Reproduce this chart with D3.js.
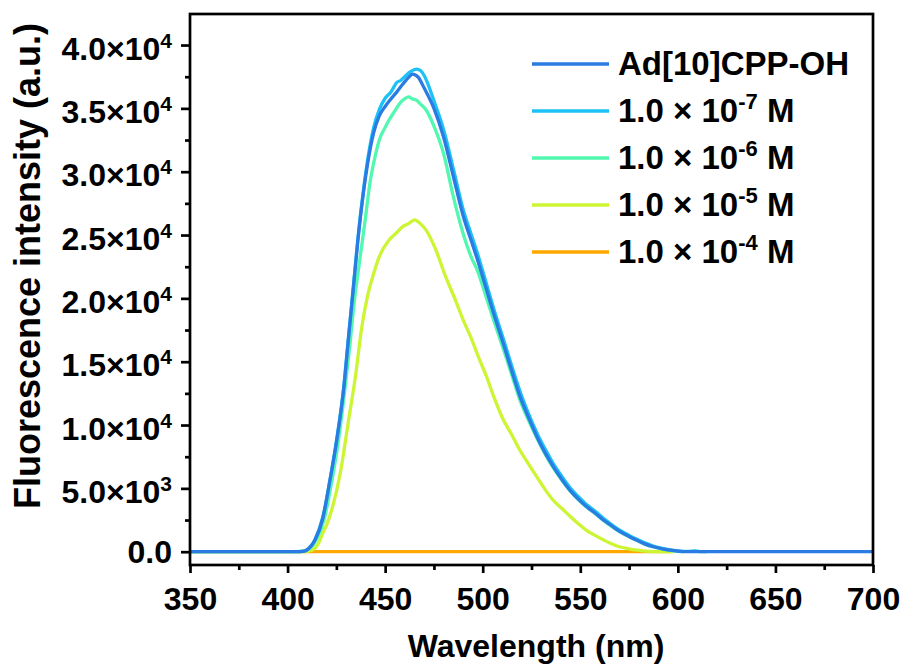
<!DOCTYPE html>
<html>
<head>
<meta charset="utf-8">
<script src="https://cdn.jsdelivr.net/npm/d3@7"></script>
<style>
  body { margin: 0; background: #fff; }
  svg text { font-family: Arial, "Liberation Sans", sans-serif; font-weight: bold; fill: #000; }
</style>
</head>
<body>
<svg id="chart" width="905" height="670"></svg>
<script>
// Axis ticks
const wavelengthTicks = [350, 400, 450, 500, 550, 600, 650, 700];
const wavelengthMinorTicks = [375, 425, 475, 525, 575, 625, 675];
const intensityTicks = [0, 5000, 10000, 15000, 20000, 25000, 30000, 35000, 40000];
const intensityMinorTicks = [2500, 7500, 12500, 17500, 22500, 27500, 32500, 37500];

// Legend entries: base text and superscript exponent
const seriesNames = ["Ad[10]CPP-OH", "1.0 × 10", "1.0 × 10", "1.0 × 10", "1.0 × 10"];
const seriesExponents = ["", "-7", "-6", "-5", "-4"];
const seriesColors = ["#2a7be2", "#1cc2f6", "#52f7b0", "#ccf533", "#ffa800"];

// Emission spectra (wavelength in nm, intensity in a.u.)
const wlAd = [350,380,405,408,410,414,418,422,425,429,431,434,436,439,441,444,447,450,453,456,459,462,464,467,470,475,480,485,490,494,497,502,506,511,515,519,524,528,532,536,541,545,549,553,558,562,566,570,575,579,583,587,592,596,600,605,650,700];
const valAd = [0,0,0,30,150,900,2600,5900,8600,13200,16500,21300,24500,28500,30600,33000,34400,35150,35750,36300,36900,37450,37700,37450,36600,35000,32700,29600,26500,24600,23200,20650,18600,16200,14200,12300,10400,9000,7800,6750,5600,4800,4150,3580,3000,2480,2050,1620,1200,900,620,410,230,120,40,0,0,0];

const wlE7 = [350,380,405,408,410,414,418,422,425,429,431,434,436,439,441,444,447,450,453,456,458,460,463,466,468,470,472,475,480,485,490,494,497,502,506,511,515,519,524,528,532,536,541,545,549,553,558,562,566,570,575,579,583,587,592,596,600,605,609,612,615];
const valE7 = [0,0,0,40,170,950,2700,5900,8700,13300,16600,21400,24700,28700,30900,33400,34900,35800,36300,37050,37200,37500,37900,38100,38000,37600,36900,35600,33300,30200,27000,25100,23700,21100,19000,16600,14600,12700,10700,9300,8100,7000,5850,5000,4350,3750,3150,2620,2150,1720,1290,980,700,470,270,150,70,20,60,10,0];

const wlE6 = [350,380,405,409,411,415,419,422,426,429,432,434,437,440,442,445,447,450,452,455,458,460,462,464,466,468,471,475,480,485,490,494,497,502,506,511,515,519,524,528,532,536,541,545,549,553,558,562,566,570,575,579,583,587,592,596,600,603];
const valE6 = [0,0,0,60,220,1000,2700,5000,8700,12300,16400,19500,23030,26450,28900,31300,32500,33500,34080,34800,35500,35750,35900,35750,35650,35350,34870,33600,31400,28000,25100,23300,22300,20000,18100,15800,13900,12000,10200,8900,7700,6650,5550,4750,4100,3550,2950,2450,2000,1580,1180,880,600,400,220,100,20,0];

const wlE5 = [350,380,408,411,414,416,418,420,423,427,431,435,438,441,444,447,452,456,459,462,465,468,471,476,481,486,490,494,498,502,506,510,515,519,524,528,532,536,541,545,549,553,558,562,566,570,575,579,583,587,598];
const valE5 = [0,0,0,60,270,700,1450,2100,3500,6190,10130,14080,17700,20200,21900,23300,24600,25200,25660,25900,26200,25900,25390,23820,21710,19870,18290,16900,15300,13810,12100,10600,9200,8030,6800,5850,4900,4080,3350,2760,2200,1710,1250,920,620,390,230,130,50,0,0];

const wlE4 = [350, 400, 450, 500, 550, 597];
const valE4 = [0, 0, 0, 0, 0, 0];

const seriesData = [
  [wlAd, valAd], [wlE7, valE7], [wlE6, valE6], [wlE5, valE5], [wlE4, valE4]
];

const svg = d3.select("#chart");
const margin = { left: 190, right: 32, top: 14, bottom: 105 };
const W = 905, H = 670;

const x = d3.scaleLinear().domain([350, 700]).range([margin.left, W - margin.right]);
const y = d3.scaleLinear().domain([-1050, 42450]).range([H - margin.bottom, margin.top]);

svg.append("clipPath").attr("id", "plotClip")
  .append("rect")
  .attr("x", margin.left).attr("y", margin.top)
  .attr("width", W - margin.left - margin.right)
  .attr("height", H - margin.top - margin.bottom);

// Spectra, bottom-most series drawn first
const line = d3.line()
  .x(d => x(d[0]))
  .y(d => y(d[1]))
  .curve(d3.curveMonotoneX);

const plot = svg.append("g").attr("clip-path", "url(#plotClip)");
for (let i = seriesData.length - 1; i >= 0; i--) {
  const [wl, val] = seriesData[i];
  const pts = wl.map((w, k) => [w, val[k]]);
  plot.append("path")
    .datum(pts)
    .attr("fill", "none")
    .attr("stroke", seriesColors[i])
    .attr("stroke-width", 3.3)
    .attr("stroke-linejoin", "round")
    .attr("d", line);
}

// Frame
const axisW = 2.7;
svg.append("rect")
  .attr("x", margin.left).attr("y", margin.top)
  .attr("width", W - margin.left - margin.right)
  .attr("height", H - margin.top - margin.bottom)
  .attr("fill", "none").attr("stroke", "#000").attr("stroke-width", axisW);

const tickFont = 32;

// X axis
const xAxis = svg.append("g").attr("transform", `translate(0,${H - margin.bottom})`)
  .call(d3.axisBottom(x).tickValues(wavelengthTicks).tickSize(8).tickSizeOuter(0).tickPadding(14));
xAxis.select(".domain").remove();
xAxis.selectAll(".tick line").attr("stroke-width", axisW);
xAxis.selectAll(".tick text").attr("font-size", tickFont).attr("font-family", null);
svg.append("g").attr("transform", `translate(0,${H - margin.bottom})`)
  .call(d3.axisBottom(x).tickValues(wavelengthMinorTicks).tickSize(5).tickSizeOuter(0).tickFormat(""))
  .call(g => g.select(".domain").remove())
  .selectAll(".tick line").attr("stroke-width", axisW);

// Y axis
const yAxis = svg.append("g").attr("transform", `translate(${margin.left},0)`)
  .call(d3.axisLeft(y).tickValues(intensityTicks).tickSize(9).tickSizeOuter(0).tickPadding(9).tickFormat(""));
yAxis.select(".domain").remove();
yAxis.selectAll(".tick line").attr("stroke-width", axisW);
yAxis.selectAll(".tick text").each(function(d) {
  const t = d3.select(this).attr("font-size", tickFont).attr("font-family", null).attr("dy", null);
  if (d === 0) {
    t.attr("y", 11).text("0.0");
    return;
  }
  const exp = Math.floor(Math.log10(d));
  const mant = (d / Math.pow(10, exp)).toFixed(1);
  t.attr("y", 14);
  t.append("tspan").text(`${mant}×10`);
  t.append("tspan").attr("font-size", 21).attr("dy", -12).text(exp);
});
svg.append("g").attr("transform", `translate(${margin.left},0)`)
  .call(d3.axisLeft(y).tickValues(intensityMinorTicks).tickSize(5).tickSizeOuter(0).tickFormat(""))
  .call(g => g.select(".domain").remove())
  .selectAll(".tick line").attr("stroke-width", axisW);

// Axis titles
svg.append("text")
  .attr("x", 536).attr("y", 657)
  .attr("text-anchor", "middle").attr("font-size", 32)
  .text("Wavelength (nm)");
svg.append("text")
  .attr("transform", "translate(40,266) rotate(-90)")
  .attr("text-anchor", "middle").attr("font-size", 36)
  .text("Fluorescence intensity (a.u.)");

// Legend
const legend = svg.append("g");
const legendY = [64, 111, 158, 205, 252];
seriesNames.forEach((name, i) => {
  const ly = legendY[i];
  legend.append("line")
    .attr("x1", 532).attr("x2", 609).attr("y1", ly).attr("y2", ly)
    .attr("stroke", seriesColors[i]).attr("stroke-width", 3.3);
  const t = legend.append("text").attr("x", 618).attr("y", ly + 11).attr("font-size", 33);
  t.append("tspan").text(name);
  if (seriesExponents[i]) {
    t.append("tspan").attr("font-size", 22).attr("dy", -13).text(seriesExponents[i]);
    t.append("tspan").attr("dy", 13).text(" M");
  }
});
</script>
</body>
</html>
